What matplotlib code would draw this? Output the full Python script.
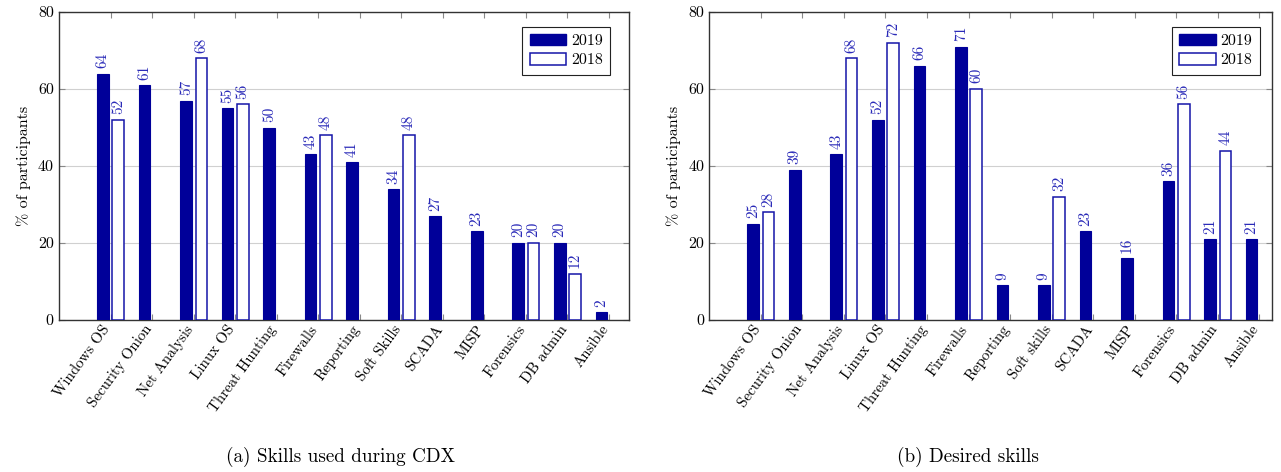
import numpy as np
import matplotlib
matplotlib.use("Agg")
import matplotlib.pyplot as plt
from matplotlib.patches import Patch

plt.rcParams['font.family'] = ['cmr10', 'DejaVu Serif']
plt.rcParams['mathtext.fontset'] = 'cm'
plt.rcParams['axes.unicode_minus'] = False

skills_a = ["Windows OS", "Security Onion", "Net Analysis", "Linux OS", "Threat Hunting",
            "Firewalls", "Reporting", "Soft Skills", "SCADA", "MISP", "Forensics",
            "DB admin", "Ansible"]
used_2019 = [64, 61, 57, 55, 50, 43, 41, 34, 27, 23, 20, 20, 2]
used_2018 = [52, None, 68, 56, None, 48, None, 48, None, None, 20, 12, None]

skills_b = ["Windows OS", "Security Onion", "Net Analysis", "Linux OS", "Threat Hunting",
            "Firewalls", "Reporting", "Soft skills", "SCADA", "MISP", "Forensics",
            "DB admin", "Ansible"]
desired_2019 = [25, 39, 43, 52, 66, 71, 9, 9, 23, 16, 36, 21, 21]
desired_2018 = [28, None, 68, 72, None, 60, None, 32, None, None, 56, 44, None]

captions = ["(a) Skills used during CDX", "(b) Desired skills"]

fill_c = '#000099'
edge_c = '#1515a8'
lab_c = '#2a2ab8'

fig = plt.figure(figsize=(12.81, 4.72), dpi=100)
ax_a = fig.add_axes([0.0458, 0.322, 0.4452, 0.6525])
ax_b = fig.add_axes([0.5535, 0.322, 0.4395, 0.6525])


def draw(ax, cats, v19, v18, xmax, leg_x):
    x = np.arange(len(cats))
    w = 0.28
    off = 0.185
    ax.bar(x - off, v19, w, color=fill_c, edgecolor=fill_c, linewidth=0.8, zorder=3)
    for i, v in enumerate(v19):
        ax.annotate(str(v), (x[i] - off, v), xytext=(0, 4), textcoords='offset points',
                    rotation=90, ha='center', va='bottom', color=lab_c, fontsize=11)
    for i, v in enumerate(v18):
        if v is None:
            continue
        ax.bar(x[i] + off, v, w, color='white', edgecolor=edge_c, linewidth=1.1, zorder=3)
        ax.annotate(str(v), (x[i] + off, v), xytext=(0, 4), textcoords='offset points',
                    rotation=90, ha='center', va='bottom', color=lab_c, fontsize=11)
    ax.set_xlim(-1.25, xmax)
    ax.set_ylim(0, 80)
    ax.set_yticks([0, 20, 40, 60, 80])
    ax.set_xticks(x)
    ax.set_xticklabels(cats, rotation=54, ha='right', va='baseline', rotation_mode='anchor',
                       fontsize=10.8)
    ax.tick_params(axis='both', direction='in', length=4, color='#888888', width=0.8,
                   top=True, right=True, labelsize=11.5)
    ax.tick_params(axis='x', pad=6.5, labelsize=10.8)
    ax.grid(axis='y', color='#d0d0d0', linewidth=0.8, zorder=0)
    ax.set_axisbelow(True)
    for s in ax.spines.values():
        s.set_color('#333333')
        s.set_linewidth(1.0)
    ax.set_ylabel("% of participants", fontsize=11.5, labelpad=5)
    handles = [Patch(facecolor=fill_c, edgecolor=fill_c, label='2019'),
               Patch(facecolor='white', edgecolor=edge_c, linewidth=1.1, label='2018')]
    leg = ax.legend(handles=handles, loc='upper right', bbox_to_anchor=(leg_x, 0.953),
                    fontsize=11.5, fancybox=False, edgecolor='#222222', framealpha=1,
                    handlelength=2.3, handleheight=0.75, borderpad=0.45, labelspacing=0.3,
                    handletextpad=0.3, borderaxespad=0)
    leg.get_frame().set_linewidth(0.8)


draw(ax_a, skills_a, used_2019, used_2018, 12.48, 0.967)
draw(ax_b, skills_b, desired_2019, desired_2018, 12.31, 0.978)

fig.text(340 / 1281, 1 - 457 / 472, captions[0], ha='center', va='center', fontsize=13.8)
fig.text(968 / 1281, 1 - 457 / 472, captions[1], ha='center', va='center', fontsize=13.8)

fig.savefig("out.png", dpi=100)
